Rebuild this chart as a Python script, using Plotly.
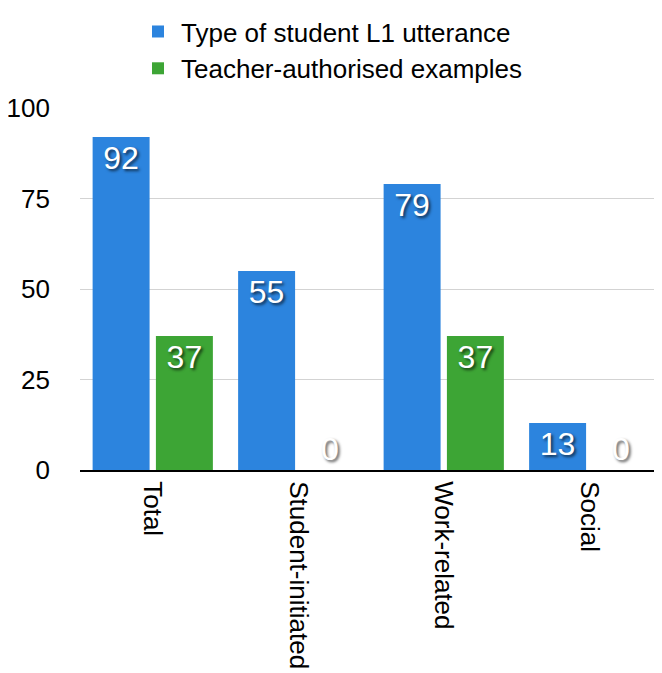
import plotly.graph_objects as go

categories = ["Total", "Student-initiated", "Work-related", "Social"]
series_names = ["Type of student L1 utterance", "Teacher-authorised examples"]
utterance_values = [92, 55, 79, 13]
authorised_values = [37, 0, 37, 0]
y_ticks = [0, 25, 50, 75, 100]

FONT = "Liberation Sans, Arial, Helvetica, sans-serif"
SHADOW = "2px 2px 3px rgba(0,0,0,0.65)"


def positions(vals):
    return ["inside" if v > 0 else "outside" for v in vals]


fig = go.Figure()
fig.add_trace(go.Bar(
    name=series_names[0], x=categories, y=utterance_values,
    marker=dict(color="#2C84DE", line=dict(width=0)),
    text=[str(v) for v in utterance_values],
    textposition=positions(utterance_values),
    insidetextanchor="end",
    textfont=dict(family=FONT, size=32, color="white", shadow=SHADOW),
    cliponaxis=False,
))
fig.add_trace(go.Bar(
    name=series_names[1], x=categories, y=authorised_values,
    marker=dict(color="#3DA535", line=dict(width=0)),
    text=[str(v) for v in authorised_values],
    textposition=positions(authorised_values),
    insidetextanchor="end",
    textfont=dict(family=FONT, size=32, color="white", shadow=SHADOW),
    cliponaxis=False,
))

fig.update_layout(
    width=662, height=673,
    margin=dict(l=72, r=8, t=100, b=211, autoexpand=False),
    paper_bgcolor="white", plot_bgcolor="white",
    barmode="group", bargap=0.13, bargroupgap=0.1,
    font=dict(family=FONT, size=26, color="black"),
    showlegend=True,
    legend=dict(
        orientation="v", x=0.0945, xanchor="left", y=1.276, yanchor="top",
        font=dict(family=FONT, size=26, color="black"),
        bgcolor="rgba(0,0,0,0)", tracegroupgap=0, itemsizing="constant",
        itemwidth=36,
    ),
    uniformtext=dict(mode=False),
)
fig.update_xaxes(
    tickangle=90, showgrid=False, showline=True, linecolor="black", linewidth=2,
    ticks="", automargin=False, ticklabelstandoff=4,
    tickfont=dict(family=FONT, size=26, color="black"),
)
fig.update_yaxes(
    range=[0, 100], tickvals=y_ticks, ticktext=[str(t) for t in y_ticks],
    showgrid=True, gridcolor="#d3d3d3", gridwidth=1, zeroline=False,
    showline=False, ticks="", ticklabelstandoff=29, automargin=False,
    tickfont=dict(family=FONT, size=26, color="black"),
)

fig.write_html("out.html")
